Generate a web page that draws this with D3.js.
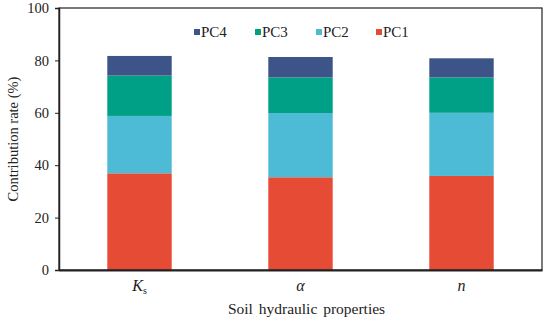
<!DOCTYPE html>
<html>
<head>
<meta charset="utf-8">
<script src="https://cdn.jsdelivr.net/npm/d3@7"></script>
<style>
  body { margin: 0; background: #fff; }
  text { font-family: "Liberation Serif", "Times New Roman", serif; fill: #222; }
</style>
</head>
<body>
<div id="chart"></div>
<script>
// data (%)
var categories = ["Ks", "alpha", "n"];
var series = ["PC1", "PC2", "PC3", "PC4"];
var pc1 = [36.9, 35.4, 35.9];
var pc2 = [21.9, 24.5, 24.1];
var pc3 = [15.4, 13.6, 13.5];
var pc4 = [7.5, 7.8, 7.3];
var yTicks = [0, 20, 40, 60, 80, 100];
var colors = ["#E64B35", "#4DBBD5", "#00A087", "#3C5488"];

var svgWidth = 550;
var svgHeight = 323;
var margin = { top: 8, right: 8, bottom: 53, left: 59 };
var width = svgWidth - margin.left - margin.right;
var height = svgHeight - margin.top - margin.bottom;

var svg = d3.select("#chart")
  .append("svg")
  .attr("width", svgWidth)
  .attr("height", svgHeight);

var chartGroup = svg.append("g")
  .attr("transform", `translate(${margin.left}, ${margin.top})`);

// build stacked table
var table = categories.map((c, i) => ({
  cat: c, PC1: pc1[i], PC2: pc2[i], PC3: pc3[i], PC4: pc4[i]
}));
var stacked = d3.stack().keys(series)(table);

var xScale = d3.scaleBand()
  .domain(categories)
  .range([0, width])
  .paddingInner(0.6)
  .paddingOuter(0.3);

var yScale = d3.scaleLinear()
  .domain([0, 100])
  .range([height, 0]);

var color = d3.scaleOrdinal().domain(series).range(colors);

// bars
chartGroup.selectAll(".layer")
  .data(stacked)
  .enter()
  .append("g")
  .attr("class", "layer")
  .attr("fill", d => color(d.key))
  .selectAll("rect")
  .data(d => d)
  .enter()
  .append("rect")
  .attr("x", d => xScale(d.data.cat))
  .attr("y", d => yScale(d[1]))
  .attr("width", xScale.bandwidth())
  .attr("height", d => yScale(d[0]) - yScale(d[1]));

// frame
chartGroup.append("rect")
  .attr("width", width)
  .attr("height", height)
  .attr("fill", "none")
  .attr("stroke", "#222")
  .attr("stroke-width", 1.2);

// y axis
var yAxis = chartGroup.append("g")
  .call(d3.axisLeft(yScale).tickValues(yTicks).tickSize(4).tickPadding(6));
yAxis.select(".domain").attr("stroke", "#222").attr("stroke-width", 1.5);
yAxis.selectAll(".tick line").attr("stroke", "#222");
yAxis.selectAll("text")
  .attr("font-size", "14.5px")
  .attr("font-family", "Liberation Serif, serif")
  .attr("fill", "#222");

// x axis (no ticks)
var xAxis = chartGroup.append("g")
  .attr("transform", `translate(0,${height})`)
  .call(d3.axisBottom(xScale).tickSize(0).tickPadding(10).tickFormat(""));
xAxis.select(".domain").attr("stroke", "#222").attr("stroke-width", 2);

var xLabels = xAxis.selectAll(".tick")
  .append("text")
  .attr("y", 21)
  .attr("text-anchor", "middle")
  .attr("font-size", "16px")
  .attr("font-style", "italic")
  .attr("font-family", "Liberation Serif, serif")
  .attr("fill", "#222");

xLabels.each(function(d) {
  var t = d3.select(this);
  if (d === "Ks") {
    t.append("tspan").text("K");
    t.append("tspan").attr("font-size", "10px").attr("font-style", "normal")
      .attr("dy", 3).text("s");
  } else if (d === "alpha") {
    t.text("\u03b1");
  } else {
    t.text("n");
  }
});

// axis titles
svg.append("text")
  .attr("transform", `translate(18,${margin.top + height / 2})rotate(-90)`)
  .attr("text-anchor", "middle")
  .attr("font-size", "14.5px")
  .text("Contribution rate (%)");

svg.append("text")
  .attr("x", margin.left + width / 2 + 6)
  .attr("y", 314)
  .attr("text-anchor", "middle")
  .attr("font-size", "15.5px")
  .attr("word-spacing", "2px")
  .text("Soil hydraulic properties");

// legend, reversed order
var legendItems = ["PC4", "PC3", "PC2", "PC1"];
var legendX = [194, 255, 316, 376];
var legend = svg.append("g");
legendItems.forEach((k, i) => {
  var g = legend.append("g").attr("transform", `translate(${legendX[i]},37)`);
  g.append("rect")
    .attr("x", 0).attr("y", -8)
    .attr("width", 6).attr("height", 6)
    .attr("fill", color(k));
  g.append("text")
    .attr("x", 7).attr("y", 0)
    .attr("font-size", "15px")
    .text(k);
});
</script>
</body>
</html>
